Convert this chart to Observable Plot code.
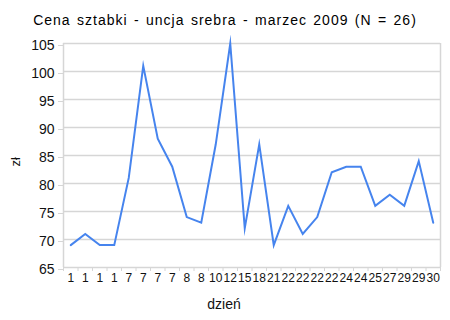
<!DOCTYPE html>
<html>
<head>
<meta charset="utf-8">
<script src="https://cdn.jsdelivr.net/npm/d3@7"></script>
<script src="https://cdn.jsdelivr.net/npm/@observablehq/plot@0.6"></script>
<style>
  body { margin: 0; background: #fff; font-family: "Liberation Sans", Arial, sans-serif; }
  #wrap { width: 450px; }
  #title { box-sizing: border-box; height: 30px; padding-top: 12px; line-height: 16px; font-size: 14px; font-weight: normal; letter-spacing: 1px; word-spacing: 1.5px; color: #000; text-align: center; white-space: nowrap; }
</style>
</head>
<body>
<div id="wrap">
  <div id="title">Cena sztabki - uncja srebra - marzec 2009 (N = 26)</div>
  <div id="chart"></div>
</div>
<script>
const dayLabels = ["1","1","1","1","7","7","7","7","8","8","10","12","15","18","21","22","22","22","22","24","24","25","27","29","29","30"];
const prices = [69, 71, 69, 69, 81, 101, 88, 83, 74, 73, 87, 105, 72, 87, 69, 76, 71, 74, 82, 83, 83, 76, 78, 76, 84, 73];
const yTicks = [65, 70, 75, 80, 85, 90, 95, 100, 105];
const yLabel = "zł";
const xLabel = "dzień";

const data = prices.map((v, i) => ({i, v, label: dayLabels[i]}));
const idx = d3.range(dayLabels.length);
const bounds = d3.range(dayLabels.length + 1).map(k => k - 0.5);
const grid = "#d6d6d6";

const chart = Plot.plot({
  width: 450,
  height: 290,
  marginTop: 13,
  marginBottom: 53,
  marginLeft: 63,
  marginRight: 10,
  style: {fontFamily: "'Liberation Sans', Arial, sans-serif", color: "#111", background: "#fff"},
  x: {type: "linear", domain: [-0.5, dayLabels.length - 0.5]},
  y: {domain: [65, 105]},
  marks: [
    Plot.ruleY(yTicks, {stroke: grid, strokeWidth: 1.5}),
    Plot.ruleX([-0.5, dayLabels.length - 0.5], {stroke: grid, strokeWidth: 1.5}),
    Plot.axisY({ticks: yTicks, tickSize: 5, tickPadding: 4, stroke: grid, fontSize: 14, dy: 2, label: null, fill: "#111"}),
    Plot.axisX({ticks: bounds, tickSize: 4, tickFormat: () => "", stroke: grid, label: null}),
    Plot.axisX({ticks: idx, tickSize: 0, tickPadding: 6, tickFormat: i => dayLabels[i], fontSize: 12, label: null, fill: "#111"}),
    Plot.lineY(data, {x: "i", y: "v", stroke: "#4684ee", strokeWidth: 2, strokeLinejoin: "miter", strokeMiterlimit: 10}),
    Plot.text([yLabel], {frameAnchor: "left", rotate: -90, dx: -48, dy: 11, fontSize: 13, fill: "#111"}),
    Plot.text([xLabel], {frameAnchor: "bottom", dx: -28, dy: 41, fontSize: 14, fill: "#111"})
  ]
});
document.getElementById("chart").appendChild(chart);
</script>
</body>
</html>
